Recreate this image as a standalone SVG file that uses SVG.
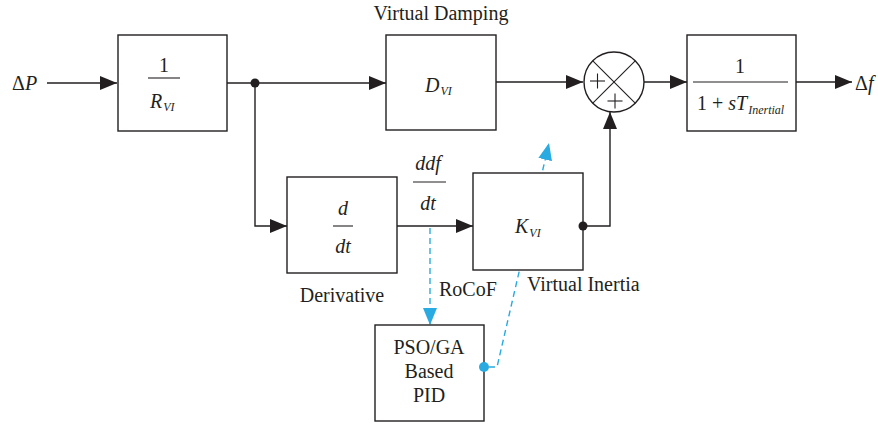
<svg xmlns="http://www.w3.org/2000/svg" width="878" height="426" viewBox="0 0 878 426" font-family="'Liberation Serif', 'DejaVu Serif', serif">
  <style>
    .box { fill: #fff; stroke: #231f20; stroke-width: 1.4; }
    .ln { fill: none; stroke: #231f20; stroke-width: 1.4; }
    .thin { fill: none; stroke: #231f20; stroke-width: 1.1; }
    .blue { fill: none; stroke: #29abe2; stroke-width: 1.4; stroke-dasharray: 6 4; }
    text { font-family: 'Liberation Serif', 'DejaVu Serif', serif; fill: #231f20; font-size: 20px; }
    .m { font-style: italic; }
    .sub { font-size: 12px; font-style: italic; }
  </style>
  <defs>
    <marker id="arr" markerWidth="18" markerHeight="14" refX="17" refY="7" orient="auto" markerUnits="userSpaceOnUse">
      <path d="M0,0 L17,7 L0,14 Z" fill="#231f20"/>
    </marker>
    <marker id="arrb" markerWidth="18" markerHeight="14" refX="17" refY="7" orient="auto" markerUnits="userSpaceOnUse">
      <path d="M0,0 L17,7 L0,14 Z" fill="#29abe2"/>
    </marker>
  </defs>

  <!-- connectors -->
  <g id="connectors">
    <line class="ln" x1="47" y1="83" x2="117" y2="83" marker-end="url(#arr)"/>
    <line class="ln" x1="227" y1="83" x2="386" y2="83" marker-end="url(#arr)"/>
    <line class="ln" x1="496" y1="82" x2="583" y2="82" marker-end="url(#arr)"/>
    <line class="ln" x1="644" y1="82" x2="687" y2="82" marker-end="url(#arr)"/>
    <line class="ln" x1="796" y1="82" x2="852" y2="82" marker-end="url(#arr)"/>
    <polyline class="ln" points="255,83 255,226 287,226" marker-end="url(#arr)"/>
    <line class="ln" x1="397" y1="226" x2="473" y2="226" marker-end="url(#arr)"/>
    <polyline class="ln" points="583,226 610,226 610,112" marker-end="url(#arr)"/>
    <!-- tuning signal paths -->
    <line class="blue" x1="430" y1="228" x2="430" y2="325" marker-end="url(#arrb)"/>
    <polyline class="blue" points="489,367 497,367 549,143" marker-end="url(#arrb)"/>
  </g>

  <!-- droop gain -->
  <g id="gain-r">
    <rect class="box" x="118" y="35" width="109" height="96"/>
    <text x="164" y="72" text-anchor="middle">1</text>
    <line class="thin" x1="148" y1="78" x2="180" y2="78"/>
    <text class="m" x="150" y="108">R<tspan class="sub" dx="1" dy="3">VI</tspan></text>
  </g>

  <!-- damping gain -->
  <g id="damping">
    <text x="441" y="20" text-anchor="middle">Virtual Damping</text>
    <rect class="box" x="386" y="35" width="110" height="95"/>
    <text class="m" x="425" y="92">D<tspan class="sub" dx="1" dy="3">VI</tspan></text>
  </g>

  <!-- summing junction -->
  <g id="sum">
    <circle class="box" cx="614" cy="82" r="30"/>
    <line class="thin" x1="592.8" y1="60.8" x2="635.2" y2="103.2"/>
    <line class="thin" x1="635.2" y1="60.8" x2="592.8" y2="103.2"/>
    <line class="thin" x1="590" y1="81" x2="605" y2="81"/>
    <line class="thin" x1="597.5" y1="73.5" x2="597.5" y2="88.5"/>
    <line class="thin" x1="607.5" y1="101" x2="622.5" y2="101"/>
    <line class="thin" x1="615" y1="93.5" x2="615" y2="108.5"/>
  </g>

  <!-- inertia transfer function -->
  <g id="plant">
    <rect class="box" x="687" y="35" width="109" height="96"/>
    <text x="740" y="73" text-anchor="middle">1</text>
    <line class="thin" x1="693" y1="82" x2="788" y2="82"/>
    <text x="697" y="110">1 + <tspan class="m">sT</tspan><tspan class="sub" font-size="11" dx="1" dy="4">Inertial</tspan></text>
  </g>

  <text x="12" y="90">Δ<tspan class="m">P</tspan></text>
  <text x="855" y="90">Δ<tspan class="m">f</tspan></text>

  <!-- derivative -->
  <g id="derivative">
    <rect class="box" x="287" y="177" width="110" height="96"/>
    <text class="m" x="343" y="215" text-anchor="middle">d</text>
    <line class="thin" x1="333" y1="226" x2="353" y2="226"/>
    <text class="m" x="343" y="253" text-anchor="middle">dt</text>
    <text x="342" y="302" text-anchor="middle">Derivative</text>
  </g>

  <g id="rocof-label">
    <text class="m" x="428" y="170" text-anchor="middle">ddf</text>
    <line class="thin" x1="413" y1="182" x2="446" y2="182"/>
    <text class="m" x="428" y="210" text-anchor="middle">dt</text>
    <text x="439" y="296">RoCoF</text>
  </g>

  <!-- inertia gain -->
  <g id="inertia">
    <rect class="box" x="473" y="173" width="110" height="97"/>
    <text class="m" x="515" y="233">K<tspan class="sub" dx="1" dy="4">VI</tspan></text>
    <text x="527" y="291">Virtual Inertia</text>
  </g>

  <!-- controller -->
  <g id="controller">
    <rect class="box" x="375" y="325" width="109" height="96"/>
    <text x="429" y="354" text-anchor="middle">PSO/GA</text>
    <text x="429" y="378" text-anchor="middle">Based</text>
    <text x="429" y="402" text-anchor="middle">PID</text>
  </g>

  <!-- branch and pick-off points, drawn over the block outlines -->
  <g id="junctions">
    <circle cx="255" cy="83" r="4.5" fill="#231f20"/>
    <circle cx="583" cy="226" r="4.5" fill="#231f20"/>
    <circle cx="484" cy="367" r="5" fill="#29abe2"/>
  </g>
</svg>
